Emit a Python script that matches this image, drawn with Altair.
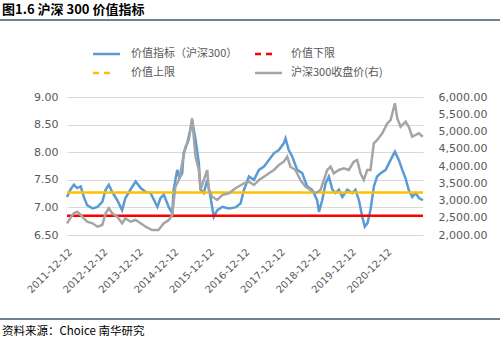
import altair as alt
import pandas as pd

# ---------------- data ----------------
blue_dates = [
    "2011-12-01", "2012-01-05", "2012-02-10", "2012-03-15", "2012-04-20", "2012-05-22",
    "2012-06-25", "2012-08-20", "2012-10-10", "2012-11-28", "2013-01-01", "2013-02-03",
    "2013-03-10", "2013-05-01", "2013-06-20", "2013-07-24", "2013-09-13", "2013-11-06",
    "2013-12-28", "2014-02-17", "2014-04-08", "2014-06-18", "2014-07-20", "2014-08-23",
    "2014-10-12", "2014-11-18", "2014-12-02", "2015-01-08", "2015-01-30", "2015-02-28",
    "2015-03-14", "2015-04-20", "2015-05-22", "2015-06-10", "2015-07-16", "2015-08-18",
    "2015-09-05", "2015-10-08", "2015-11-13", "2015-12-16", "2016-01-19", "2016-02-24",
    "2016-04-16", "2016-06-21", "2016-08-29", "2016-10-20", "2016-11-25", "2017-01-15",
    "2017-03-07", "2017-04-27", "2017-06-18", "2017-08-08", "2017-09-28", "2017-11-18",
    "2018-01-08", "2018-01-26", "2018-02-28", "2018-04-05", "2018-05-26", "2018-07-16",
    "2018-09-06", "2018-10-27", "2018-12-17", "2019-01-05", "2019-02-07", "2019-03-15",
    "2019-04-17", "2019-05-23", "2019-06-25", "2019-07-28", "2019-09-02", "2019-10-23",
    "2019-12-13", "2020-01-15", "2020-02-20", "2020-03-25", "2020-04-20", "2020-05-19",
    "2020-06-17", "2020-07-23", "2020-08-25", "2020-10-01", "2020-11-21", "2021-01-11",
    "2021-02-24", "2021-04-05", "2021-05-11", "2021-06-13", "2021-07-16", "2021-08-22",
    "2021-09-24", "2021-10-30", "2021-12-09",
]
blue_vals = [
    7.19, 7.32, 7.41, 7.35, 7.38, 7.19,
    7.04, 6.98, 7.01, 7.10, 7.32, 7.41,
    7.28, 7.13, 6.95, 7.17, 7.32, 7.47,
    7.35, 7.28, 7.26, 7.01, 7.17, 7.23,
    7.01, 6.89, 7.32, 7.68, 7.53, 7.62,
    7.98, 8.16, 8.40, 8.58, 8.22, 7.80,
    7.32, 7.26, 7.50, 7.19, 6.83, 6.95,
    7.01, 6.98, 7.00, 7.07, 7.32, 7.56,
    7.50, 7.68, 7.74, 7.86, 7.98, 8.04,
    8.16, 8.25, 8.04, 7.92, 7.68, 7.62,
    7.38, 7.32, 7.13, 6.92, 7.13, 7.44,
    7.56, 7.32, 7.26, 7.32, 7.19, 7.32,
    7.26, 7.32, 7.13, 6.83, 6.65, 6.72,
    6.95, 7.38, 7.56, 7.62, 7.68, 7.86,
    8.01, 7.86, 7.68, 7.53, 7.32, 7.19,
    7.26, 7.17, 7.13,
]

gray_dates = [
    "2011-12-01", "2012-01-05", "2012-02-10", "2012-03-15", "2012-04-20", "2012-05-22",
    "2012-06-25", "2012-08-20", "2012-10-10", "2012-11-28", "2013-01-01", "2013-02-03",
    "2013-03-10", "2013-05-01", "2013-06-20", "2013-07-24", "2013-09-13", "2013-11-06",
    "2013-12-28", "2014-02-17", "2014-04-25", "2014-06-28", "2014-08-23", "2014-10-13",
    "2014-11-17", "2014-12-20", "2015-01-24", "2015-02-28", "2015-04-03", "2015-05-07",
    "2015-06-10", "2015-07-15", "2015-08-18", "2015-09-05", "2015-10-08", "2015-11-13",
    "2015-11-29", "2016-01-03", "2016-02-23", "2016-04-15", "2016-06-22", "2016-08-30",
    "2016-11-24", "2017-01-14", "2017-03-07", "2017-04-27", "2017-06-18", "2017-08-08",
    "2017-09-28", "2017-11-18", "2018-01-08", "2018-02-12", "2018-03-17", "2018-05-08",
    "2018-06-28", "2018-08-19", "2018-10-09", "2018-11-29", "2019-01-21", "2019-02-24",
    "2019-03-31", "2019-05-04", "2019-06-07", "2019-07-28", "2019-09-18", "2019-11-08",
    "2019-12-29", "2020-02-02", "2020-03-07", "2020-04-10", "2020-05-15", "2020-06-18",
    "2020-07-22", "2020-08-26", "2020-10-17", "2020-12-08", "2021-01-11", "2021-02-24",
    "2021-03-20", "2021-04-23", "2021-06-14", "2021-07-17", "2021-08-21", "2021-09-24",
    "2021-10-28", "2021-12-08",
]
gray_vals = [
    2339, 2493, 2629, 2675, 2580, 2484,
    2386, 2339, 2241, 2290, 2629, 2774,
    2629, 2530, 2339, 2484, 2386, 2435,
    2339, 2241, 2145, 2145, 2339, 2435,
    2580, 3400, 3594, 4078, 4559, 4754,
    5383, 4270, 3884, 3304, 3594, 3884,
    3304, 3110, 3015, 3159, 3209, 3354,
    3499, 3545, 3449, 3594, 3690, 3788,
    3884, 4029, 4125, 4270, 3980, 3884,
    3594, 3400, 3304, 3209, 3304, 3594,
    3884, 3980, 3788, 3884, 3933, 3884,
    4125, 4174, 3788, 3594, 3884, 3884,
    4658, 4754, 4948, 5238, 5333, 5817,
    5383, 5139, 5284, 5139, 4849, 4899,
    4948, 4849,
]

upper_limit = [7.27]
lower_limit = [6.85]

left_ticks = [6.5, 7.0, 7.5, 8.0, 8.5, 9.0]
right_ticks = [2000, 2500, 3000, 3500, 4000, 4500, 5000, 5500, 6000]
tick_years = list(range(2011, 2021))

title_text = "图1.6 沪深 300 价值指标"
source_text = "资料来源：Choice 南华研究"
legend_labels = ["价值指标（沪深300）", "价值下限", "价值上限", "沪深300收盘价(右)"]

# ---------------- chart ----------------
W, H = 356, 138
PAD_L, PAD_T = 67, 97
BLUE, GRAY, YELLOW, RED = "#5B9BD5", "#A5A5A5", "#FFC000", "#FF0000"
CJK = "Noto Sans CJK SC"
NUM = "DejaVu Sans"

blue_df = pd.DataFrame({"date": blue_dates, "v": blue_vals})
gray_df = pd.DataFrame({"date": gray_dates, "p": gray_vals})
upper_df = pd.DataFrame({"v": upper_limit})
lower_df = pd.DataFrame({"v": lower_limit})

x_scale = alt.Scale(type="utc",
                    domain=[alt.DateTime(year=2011, month=12, date=1, utc=True),
                            alt.DateTime(year=2021, month=12, date=10, utc=True)])
x_axis = alt.Axis(values=[alt.DateTime(year=y, month=12, date=12, utc=True) for y in tick_years],
                  format="%Y-%m-%d", labelAngle=-45, labelAlign="right",
                  labelBaseline="middle", labelPadding=15, labelOffset=2, labelFont=NUM,
                  labelFontSize=10, labelColor="#595959", domain=False, ticks=False,
                  grid=False, title=None, labelOverlap=False)
x_enc = alt.X("date:T", scale=x_scale, axis=x_axis)

left_scale = alt.Scale(domain=[6.5, 9.0], nice=False, zero=False)

blue = alt.Chart(blue_df).mark_line(color=BLUE, strokeWidth=2.5).encode(
    x=x_enc,
    y=alt.Y("v:Q", scale=left_scale,
            axis=alt.Axis(values=left_ticks, format=".2f", grid=True, gridColor="#D9D9D9",
                          gridWidth=1, domain=False, ticks=False, labelPadding=9,
                          labelFont=NUM, labelFontSize=11, labelColor="#595959",
                          title=None)),
)
upper = alt.Chart(upper_df).mark_rule(color=YELLOW, strokeWidth=2.5).encode(
    y=alt.Y("v:Q", scale=left_scale, axis=None))
lower = alt.Chart(lower_df).mark_rule(color=RED, strokeWidth=2.5).encode(
    y=alt.Y("v:Q", scale=left_scale, axis=None))

gray = alt.Chart(gray_df).mark_line(color=GRAY, strokeWidth=2.5).encode(
    x=x_enc,
    y=alt.Y("p:Q", scale=alt.Scale(domain=[2000, 6000], nice=False, zero=False),
            axis=alt.Axis(orient="right", values=right_ticks, format=",.2f", grid=False,
                          domain=False, ticks=False, labelPadding=15, labelFont=NUM,
                          labelFontSize=11, labelColor="#595959", title=None)),
)

one = pd.DataFrame({"k": [0]})


def text(t, x, y, size, weight="normal", color="#404040", font=CJK):
    return alt.Chart(pd.DataFrame({"t": [t]})).mark_text(
        align="left", baseline="middle", font=font, fontSize=size, fontWeight=weight,
        color=color).encode(x=alt.value(x - PAD_L), y=alt.value(y - PAD_T), text="t:N")


def hline(x1, x2, y, color, width, dash=None):
    kw = dict(color=color, strokeWidth=width)
    if dash:
        kw["strokeDash"] = dash
    return alt.Chart(one).mark_rule(**kw).encode(
        x=alt.value(x1 - PAD_L), x2=alt.value(x2 - PAD_L), y=alt.value(y - PAD_T))


decor = [
    text(title_text, 2, 10, 13, weight="bold", color="#000000"),
    hline(0, 500, 20, "#6E8296", 2),
    hline(0, 500, 319, "#6E8296", 2),
    text(source_text, 2, 332, 11.5, color="#000000"),
    # legend
    hline(93, 120, 54, BLUE, 2.5),
    text(legend_labels[0], 131, 54, 11, color="#595959"),
    hline(255, 277, 54, RED, 2.5, dash=[6, 5]),
    text(legend_labels[1], 291, 54, 11, color="#595959"),
    hline(93, 115, 73, YELLOW, 2.5, dash=[6, 5]),
    text(legend_labels[2], 131, 73, 11, color="#595959"),
    hline(255, 282, 73, GRAY, 2.5),
    text(legend_labels[3], 291, 73, 11, color="#595959"),
]

chart = alt.layer(blue, upper, lower, gray, *decor).resolve_scale(
    y="independent"
).properties(
    width=W, height=H,
    autosize=alt.AutoSizeParams(type="none"),
    padding={"left": PAD_L, "top": PAD_T, "right": 500 - PAD_L - W, "bottom": 343 - PAD_T - H},
    background="white",
).configure_view(stroke=None)

chart.save("out.html", embed_options={"renderer": "svg", "actions": False})
